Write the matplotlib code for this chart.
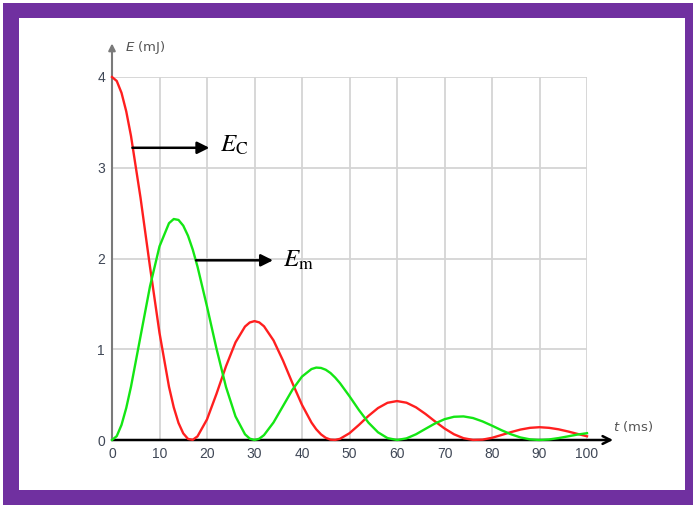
import matplotlib
matplotlib.use("Agg")
import matplotlib.pyplot as plt
from matplotlib.patches import Rectangle

# t in ms, energies in mJ (denser where the curves turn)
t = [0, 1, 2, 3, 4, 6, 8, 10, 12, 13, 14, 15, 16, 17, 18, 20,
     22, 24, 26, 28, 29, 30, 31, 32, 34, 36, 38, 40, 42, 43, 44, 45, 46, 47, 48, 50,
     52, 54, 56, 58, 60, 62, 64, 66, 68, 70, 72, 74, 76, 78, 80,
     82, 84, 86, 88, 90, 92, 94, 96, 98, 100]
e_c = [4.000, 3.956, 3.826, 3.621, 3.350, 2.671, 1.908, 1.180, 0.586, 0.360, 0.188, 0.073, 0.012, 0.002, 0.040, 0.227,
       0.509, 0.813, 1.076, 1.250, 1.295, 1.310, 1.296, 1.253, 1.098, 0.875, 0.625, 0.387, 0.192, 0.118, 0.062, 0.024, 0.004, 0.001, 0.013, 0.075,
       0.167, 0.266, 0.352, 0.410, 0.429, 0.411, 0.360, 0.287, 0.205, 0.127, 0.063, 0.020, 0.001, 0.004, 0.024,
       0.055, 0.087, 0.115, 0.134, 0.141, 0.134, 0.118, 0.094, 0.067, 0.041]
e_m = [0.000, 0.043, 0.166, 0.353, 0.588, 1.141, 1.693, 2.134, 2.389, 2.435, 2.425, 2.362, 2.251, 2.098, 1.911, 1.471,
       1.006, 0.584, 0.260, 0.063, 0.015, 0.000, 0.014, 0.054, 0.193, 0.374, 0.555, 0.699, 0.782, 0.798, 0.794, 0.774, 0.738, 0.687, 0.626, 0.482,
       0.329, 0.191, 0.085, 0.021, 0.000, 0.018, 0.063, 0.123, 0.182, 0.229, 0.256, 0.260, 0.242, 0.205, 0.158,
       0.108, 0.063, 0.028, 0.007, 0.000, 0.006, 0.021, 0.040, 0.060, 0.075]
xticks = list(range(0, 101, 10))
yticks = [0, 1, 2, 3, 4]

purple = "#7030a0"
tick_col = "#3f4756"

fig = plt.figure(figsize=(6.93, 5.05), dpi=100, facecolor="white")
W, H = 693, 505
fig.patches.append(Rectangle((3 / W, 0), 1, 1 - 3 / H, transform=fig.transFigure,
                             facecolor=purple, edgecolor="none", zorder=-10))
fig.patches.append(Rectangle((19 / W, 15 / H), (685 - 19) / W, (490 - 18) / H,
                             transform=fig.transFigure, facecolor="white",
                             edgecolor="none", zorder=-9))

ax = fig.add_axes([112 / W, 65 / H, 475 / W, 363 / H])
ax.set_facecolor("none")
ax.set_xlim(0, 100)
ax.set_ylim(0, 4)
for s in ax.spines.values():
    s.set_visible(False)

ax.set_xticks(xticks)
ax.set_yticks(yticks)
ax.grid(True, color="#d4d4d4", linewidth=1.3)
ax.tick_params(length=0, labelsize=10, colors=tick_col, pad=5)
for lab in ax.get_xticklabels() + ax.get_yticklabels():
    lab.set_family(["Liberation Sans Narrow", "Liberation Sans", "DejaVu Sans"])

# axes with arrows
ax.annotate("", xy=(105.5, 0), xytext=(0, 0), annotation_clip=False,
            arrowprops=dict(arrowstyle="->", color="black", lw=1.8,
                            mutation_scale=14, shrinkA=0, shrinkB=0))
ax.annotate("", xy=(0, 4.37), xytext=(0, 0), annotation_clip=False,
            arrowprops=dict(arrowstyle="-|>", color="#7a7a7a", lw=1.5,
                            mutation_scale=10, shrinkA=0, shrinkB=0))
ax.text(2.8, 4.32, "$\\mathit{E}$ (mJ)", color="#555555", fontsize=9.5,
        va="center", ha="left")
ax.text(105.5, 0.15, "$\\mathit{t}$ (ms)", color="#555555", fontsize=9.5,
        va="center", ha="left")

ax.plot(t, e_c, color="#ff1f1f", lw=1.7, clip_on=False, zorder=3)
ax.plot(t, e_m, color="#14e614", lw=1.7, clip_on=False, zorder=3)

# labels with arrows
ax.annotate("", xy=(20.5, 3.22), xytext=(4.3, 3.22), annotation_clip=False,
            arrowprops=dict(arrowstyle="-|>", color="black", lw=1.8,
                            mutation_scale=18, shrinkA=0, shrinkB=0), zorder=4)
ax.text(22.7, 3.25, "$E_{\\mathrm{C}}$", fontsize=18, va="center", ha="left",
        math_fontfamily="stix")
ax.annotate("", xy=(33.9, 1.98), xytext=(17.7, 1.98), annotation_clip=False,
            arrowprops=dict(arrowstyle="-|>", color="black", lw=1.8,
                            mutation_scale=18, shrinkA=0, shrinkB=0), zorder=4)
ax.text(36.0, 1.98, "$E_{\\mathrm{m}}$", fontsize=18, va="center", ha="left",
        math_fontfamily="stix")

fig.savefig("out.png", dpi=100, facecolor=fig.get_facecolor())
